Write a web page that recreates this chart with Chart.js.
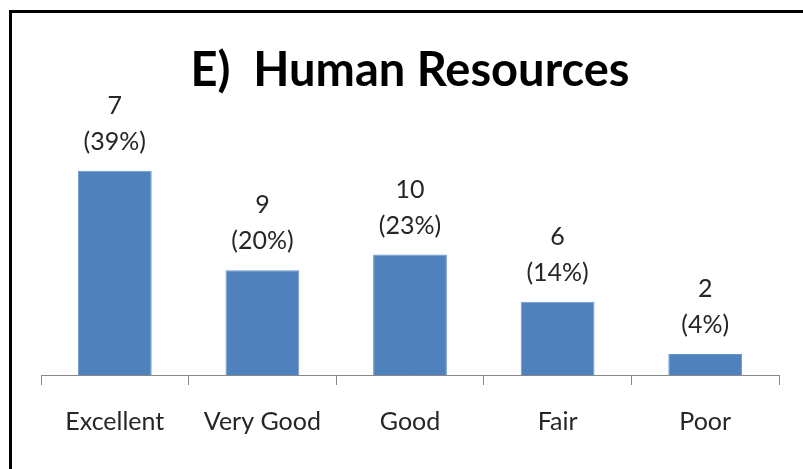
<!DOCTYPE html>
<html>
<head>
<meta charset="utf-8">
<script src="https://cdn.jsdelivr.net/npm/chart.js@4.4.0/dist/chart.umd.min.js"></script>
<style>
body { margin: 0; background: #fff; overflow: hidden; }
#frame { position: absolute; left: 9px; top: 10px; width: 900px; height: 600px; border: 3px solid #000; }
#chart-canvas { position: absolute; left: 0; top: 0; }
</style>
</head>
<body>
<div id="frame"></div>
<canvas id="chart-canvas" width="803" height="469"></canvas>
<script>
var categories = ["Excellent", "Very Good", "Good", "Fair", "Poor"];
var counts = [7, 9, 10, 6, 2];
var percents = [39, 20, 23, 14, 4];

// two-line labels above each bar: count, then (percent)
var barLabels = {
	id: "barLabels",
	afterDatasetsDraw: function(chart) {
		var ctx = chart.ctx;
		var meta = chart.getDatasetMeta(0);
		ctx.save();
		ctx.font = "25px Lato";
		ctx.fillStyle = "#262626";
		ctx.textAlign = "center";
		ctx.textBaseline = "middle";
		meta.data.forEach(function(bar, i) {
			ctx.fillText(String(counts[i]), bar.x, bar.y - 65);
			ctx.fillText("(" + percents[i] + "%)", bar.x, bar.y - 29);
		});
		ctx.restore();
	}
};

var canvas = document.getElementById("chart-canvas");
var hrChart = new Chart(canvas, {
	type: "bar",
	data: {
		labels: categories,
		datasets: [{
			data: percents,
			backgroundColor: "#4F81BD",
			borderColor: "#6A96CC",
			borderWidth: 1,
			barPercentage: 0.5,
			categoryPercentage: 1.0
		}]
	},
	options: {
		responsive: false,
		animation: false,
		layout: { padding: { left: 41, right: 24, top: 0, bottom: 0 } },
		plugins: {
			legend: { display: false },
			tooltip: { enabled: false },
			title: {
				display: true,
				text: "E)  Human Resources",
				color: "#000",
				font: { family: "Lato", size: 47, weight: "bold" },
				padding: { top: 43, bottom: 40 }
			}
		},
		scales: {
			x: {
				afterFit: function(scale) { scale.height = 94; },
				grid: { drawOnChartArea: false, drawTicks: true, tickLength: 10, color: "#888", offset: true },
				border: { display: true, color: "#888", width: 1 },
				ticks: { color: "#262626", font: { family: "Lato", size: 25 }, padding: 22, maxRotation: 0 }
			},
			y: {
				display: false,
				min: 0,
				max: 45
			}
		}
	},
	plugins: [barLabels]
});
</script>
</body>
</html>
